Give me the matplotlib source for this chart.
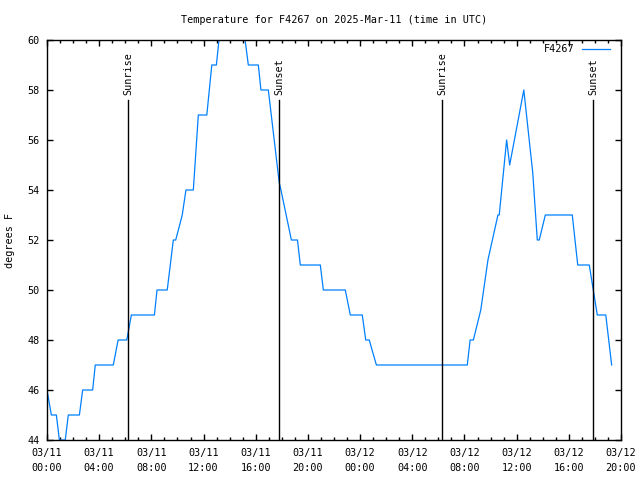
import datetime as dt
import matplotlib
matplotlib.use('Agg')
import matplotlib.pyplot as plt
import matplotlib.dates as mdates
from matplotlib.ticker import MultipleLocator

plt.rcParams['font.family'] = 'DejaVu Sans Mono'
plt.rcParams['font.size'] = 7.3

# temperature readings (UTC)
times = ['03-11 00:00', '03-11 00:20', '03-11 00:43', '03-11 00:57', '03-11 01:24',
         '03-11 01:38', '03-11 02:29', '03-11 02:44', '03-11 03:30', '03-11 03:42',
         '03-11 05:05', '03-11 05:27', '03-11 06:07', '03-11 06:28', '03-11 08:14',
         '03-11 08:26', '03-11 09:13', '03-11 09:41', '03-11 09:52', '03-11 10:22',
         '03-11 10:39', '03-11 11:13', '03-11 11:36', '03-11 12:15', '03-11 12:38',
         '03-11 12:59', '03-11 13:11', '03-11 13:25', '03-11 14:52', '03-11 15:11',
         '03-11 15:26', '03-11 16:12', '03-11 16:24', '03-11 16:58', '03-11 17:48',
         '03-11 17:56', '03-11 18:44', '03-11 19:12', '03-11 19:25', '03-11 20:57',
         '03-11 21:11', '03-11 22:52', '03-11 23:15', '03-12 00:10', '03-12 00:26',
         '03-12 00:42', '03-12 01:15', '03-12 08:13', '03-12 08:26', '03-12 08:41',
         '03-12 09:15', '03-12 09:48', '03-12 10:34', '03-12 10:40', '03-12 11:14',
         '03-12 11:28', '03-12 12:33', '03-12 13:14', '03-12 13:35', '03-12 13:44',
         '03-12 14:12', '03-12 16:16', '03-12 16:41', '03-12 17:34', '03-12 18:11',
         '03-12 18:50', '03-12 19:17']
temps = [46, 45, 45, 44, 44,
         45, 45, 46, 46, 47,
         47, 48, 48, 49, 49,
         50, 50, 52, 52, 53,
         54, 54, 57, 57, 59,
         59, 60, 61, 61, 60,
         59, 59, 58, 58, 54.3,
         54, 52, 52, 51, 51,
         50, 50, 49, 49, 48,
         48, 47, 47, 48, 48,
         49.2, 51.2, 53, 53, 56,
         55, 58, 54.7, 52, 52,
         53, 53, 51, 51, 49,
         49, 47]

sun_times = ['03-11 06:14', '03-11 17:48', '03-12 06:17', '03-12 17:53']
sun_labels = ['Sunrise', 'Sunset', 'Sunrise', 'Sunset']


def to_dt(s):
    return dt.datetime.strptime('2025-' + s, '%Y-%m-%d %H:%M')


x = [to_dt(t) for t in times]

fig = plt.figure(figsize=(6.4, 4.8), dpi=100)
ax = fig.add_axes([47 / 640., 40 / 480., 574 / 640., 400 / 480.])

ax.plot(x, temps, color='#0080ff', lw=0.9, label='F4267')

for t, lab in zip(sun_times, sun_labels):
    ax.axvline(to_dt(t), ymin=0, ymax=0.85, color='black', lw=1)
    ax.text(to_dt(t), 0.8625, lab, transform=ax.get_xaxis_transform(),
            rotation=90, ha='center', va='bottom')

ax.set_xlim(to_dt('03-11 00:00'), to_dt('03-12 20:00'))
ax.set_ylim(44, 60)
ax.xaxis.set_major_locator(mdates.HourLocator(byhour=range(0, 24, 4)))
ax.xaxis.set_minor_locator(mdates.HourLocator())
ax.xaxis.set_major_formatter(mdates.DateFormatter('%m/%d\n%H:%M'))
ax.yaxis.set_major_locator(MultipleLocator(2))
ax.tick_params(which='both', direction='in', top=True, right=True, width=1)
ax.tick_params(which='major', length=4.5, pad=5)
ax.tick_params(axis='x', which='major', pad=6)
ax.tick_params(which='minor', length=2.5)
for sp in ax.spines.values():
    sp.set_linewidth(1)

ax.set_title('Temperature for F4267 on 2025-Mar-11 (time in UTC)', fontsize=7.3, pad=12)
ax.set_ylabel('degrees F', labelpad=9)
ax.legend(loc='upper right', bbox_to_anchor=(0.988, 1.0), frameon=False,
          markerfirst=False, handlelength=2.8, borderaxespad=0, handletextpad=0.7)

fig.canvas.draw()
for tick in ax.xaxis.get_major_ticks():
    tick.label1.set_linespacing(1.6)

fig.savefig('out.png', dpi=100)
